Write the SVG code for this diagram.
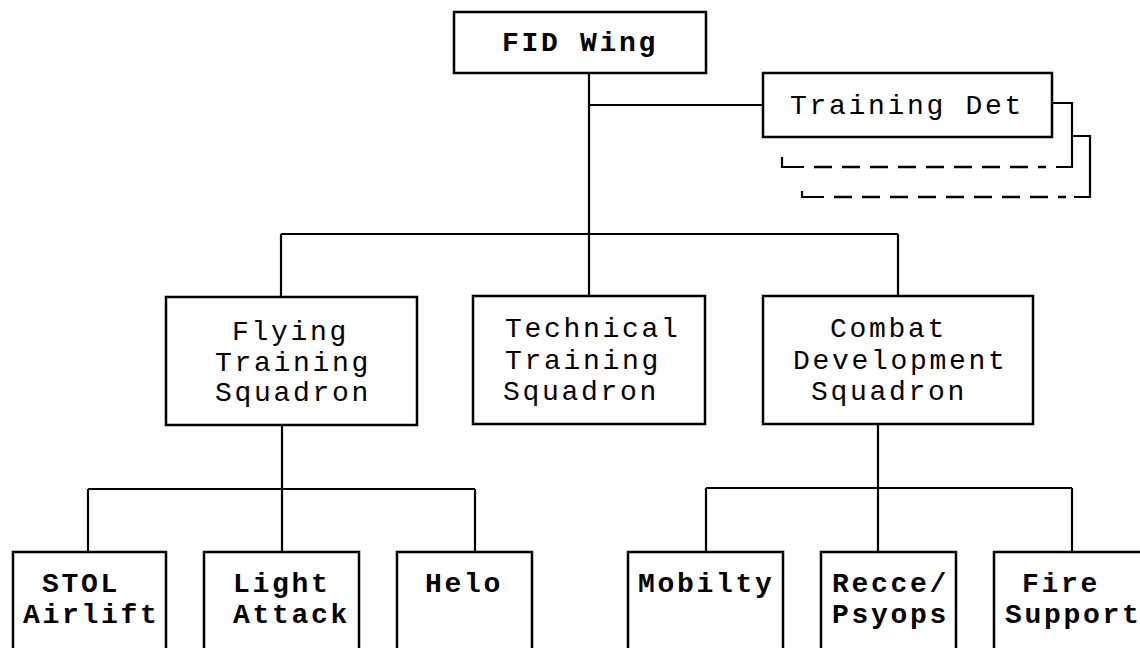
<svg xmlns="http://www.w3.org/2000/svg" width="1140" height="648" viewBox="0 0 1140 648">
<style>
.box{fill:#fff;stroke:#000;stroke-width:2.5}
.ln{fill:none;stroke:#000;stroke-width:2.2}
.dash{fill:none;stroke:#000;stroke-width:2.4;stroke-dasharray:18 10}
text{font-family:"Liberation Mono","Courier New",monospace;font-size:28px;letter-spacing:2.7px;fill:#000}
.b{font-weight:bold}
</style>
<rect width="1140" height="648" fill="#fff"/>
<g id="connectors">
<path class="ln" d="M589,73 V296 M589,105 H763 M281,234 H898 M281,234 V297 M898,234 V296"/>
<path class="ln" d="M282,425 V489 M88,489 H475 M88,489 V552 M282,489 V552 M475,489 V552"/>
<path class="ln" d="M878,424 V488 M706,488 H1072 M706,488 V552 M878,488 V552 M1072,488 V552"/>
<path class="ln" d="M1052,103 H1072 V167 H1056 M782,157 V167 H804"/>
<path class="dash" d="M814,167 H1046"/>
<path class="ln" d="M1072,136 H1090 V197 H1074 M802,191 V197 H824"/>
<path class="dash" d="M834,197 H1066"/>
</g>
<g id="fid-wing"><rect class="box" x="454" y="12" width="252" height="61"/><text class="b" x="502" y="51">FID Wing</text></g>
<g id="training-det"><rect class="box" x="763" y="73" width="289" height="64"/><text x="790" y="114">Training Det</text></g>
<g id="flying"><rect class="box" x="166" y="297" width="251" height="128"/>
<text x="232" y="340">Flying</text><text x="215" y="371">Training</text><text x="215" y="401">Squadron</text></g>
<g id="technical"><rect class="box" x="473" y="296" width="232" height="128"/>
<text x="505" y="337">Technical</text><text x="505" y="369">Training</text><text x="503" y="400">Squadron</text></g>
<g id="combat"><rect class="box" x="763" y="296" width="270" height="128"/>
<text x="830" y="337">Combat</text><text x="793" y="369">Development</text><text x="811" y="400">Squadron</text></g>
<g id="stol"><rect class="box" x="13" y="552" width="153" height="110"/><text class="b" x="42" y="592">STOL</text><text class="b" x="23" y="623">Airlift</text></g>
<g id="light"><rect class="box" x="204" y="552" width="155" height="110"/><text class="b" x="233" y="592">Light</text><text class="b" x="233" y="623">Attack</text></g>
<g id="helo"><rect class="box" x="397" y="552" width="135" height="110"/><text class="b" x="425" y="592">Helo</text></g>
<g id="mobility"><rect class="box" x="628" y="552" width="155" height="110"/><text class="b" x="638" y="592">Mobilty</text></g>
<g id="recce"><rect class="box" x="821" y="552" width="135" height="110"/><text class="b" x="832" y="592">Recce/</text><text class="b" x="832" y="623">Psyops</text></g>
<g id="fire"><rect class="box" x="994" y="552" width="160" height="110"/><text class="b" x="1022" y="592">Fire</text><text class="b" x="1005" y="623">Support</text></g>
</svg>
